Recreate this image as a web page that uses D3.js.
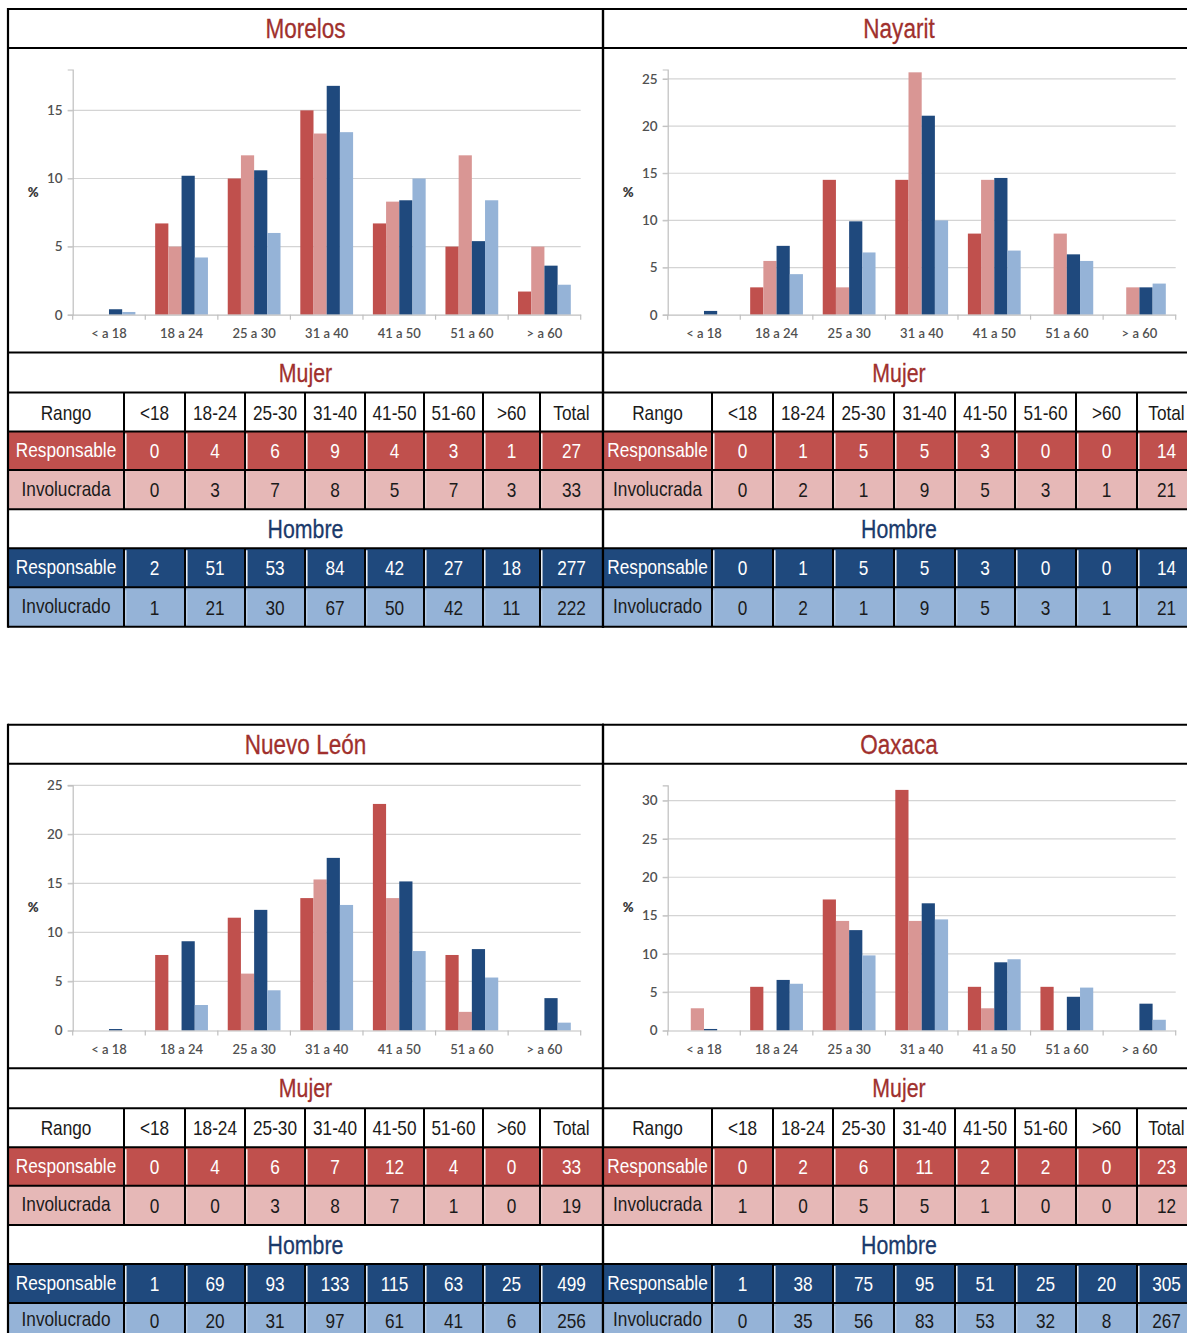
<!DOCTYPE html>
<html><head><meta charset="utf-8">
<script src="https://cdn.jsdelivr.net/npm/d3@7"></script>
<style>
html,body{margin:0;padding:0;background:#fff;}
svg{display:block;}
</style></head><body>
<svg id="chart" width="1187" height="1333"></svg>
<script>
// ---------- DATA ----------
const states = ["Morelos", "Nayarit", "Nuevo León", "Oaxaca"];
const categories = ["< a 18", "18 a 24", "25 a 30", "31 a 40", "41 a 50", "51 a 60", "> a 60"];
const rangeLabels = ["<18", "18-24", "25-30", "31-40", "41-50", "51-60", ">60"];
const seriesKeys = ["mujerResp", "mujerInv", "hombreResp", "hombreInv"];
const rowLabels = ["Responsable", "Involucrada", "Responsable", "Involucrado"];
const yTicks = [0, 5, 10, 15, 20, 25, 30];
const yAxisMax = [18, 26, 25, 32];

// chart percentages
const morelosPct = [
  [0, 6.7, 10.0, 15.0, 6.7, 5.0, 1.7],
  [0, 5.0, 11.7, 13.3, 8.3, 11.7, 5.0],
  [0.4, 10.2, 10.6, 16.8, 8.4, 5.4, 3.6],
  [0.2, 4.2, 6.0, 13.4, 10.0, 8.4, 2.2]
];
const nayaritPct = [
  [0, 2.9, 14.3, 14.3, 8.6, 0, 0],
  [0, 5.7, 2.9, 25.7, 14.3, 8.6, 2.9],
  [0.4, 7.3, 9.9, 21.1, 14.5, 6.4, 2.9],
  [0, 4.3, 6.6, 10.0, 6.8, 5.7, 3.3]
];
const nuevoLeonPct = [
  [0, 7.7, 11.5, 13.5, 23.1, 7.7, 0],
  [0, 0, 5.8, 15.4, 13.5, 1.9, 0],
  [0.15, 9.1, 12.3, 17.6, 15.2, 8.3, 3.3],
  [0, 2.6, 4.1, 12.8, 8.1, 5.4, 0.8]
];
const oaxacaPct = [
  [0, 5.7, 17.1, 31.4, 5.7, 5.7, 0],
  [2.9, 0, 14.3, 14.3, 2.9, 0, 0],
  [0.2, 6.6, 13.1, 16.6, 8.9, 4.4, 3.5],
  [0, 6.1, 9.8, 14.5, 9.3, 5.6, 1.4]
];

// table counts (last value = Total)
const morelosCounts = [
  [0, 4, 6, 9, 4, 3, 1, 27],
  [0, 3, 7, 8, 5, 7, 3, 33],
  [2, 51, 53, 84, 42, 27, 18, 277],
  [1, 21, 30, 67, 50, 42, 11, 222]
];
const nayaritCounts = [
  [0, 1, 5, 5, 3, 0, 0, 14],
  [0, 2, 1, 9, 5, 3, 1, 21],
  [0, 1, 5, 5, 3, 0, 0, 14],
  [0, 2, 1, 9, 5, 3, 1, 21]
];
const nuevoLeonCounts = [
  [0, 4, 6, 7, 12, 4, 0, 33],
  [0, 0, 3, 8, 7, 1, 0, 19],
  [1, 69, 93, 133, 115, 63, 25, 499],
  [0, 20, 31, 97, 61, 41, 6, 256]
];
const oaxacaCounts = [
  [0, 2, 6, 11, 2, 2, 0, 23],
  [1, 0, 5, 5, 1, 0, 0, 12],
  [1, 38, 75, 95, 51, 25, 20, 305],
  [0, 35, 56, 83, 53, 32, 8, 267]
];
const pctByState = [morelosPct, nayaritPct, nuevoLeonPct, oaxacaPct];
const countsByState = [morelosCounts, nayaritCounts, nuevoLeonCounts, oaxacaCounts];

// ---------- STYLE ----------
const barColors = ["#C0504D", "#D99694", "#1F497D", "#95B3D7"];
const rowFills = ["#C0504D", "#E6B8B7", "#1F497D", "#95B3D7"];
const rowText = ["#ffffff", "#1a1a1a", "#ffffff", "#1a1a1a"];
const titleRed = "#A0302D";
const navy = "#1B3A6B";

function hasFont(name) {
  const c = document.createElement("canvas").getContext("2d");
  const t = "Responsable 0123456789 Hombre";
  c.font = "40px monospace";
  const a = c.measureText(t).width;
  c.font = `40px '${name}', monospace`;
  const b = c.measureText(t).width;
  return Math.abs(a - b) > 0.5;
}
const narrowOK = hasFont("Liberation Sans Narrow");
const TF = narrowOK ? "'Liberation Sans Narrow', 'Arial Narrow', sans-serif" : "'Liberation Sans', Arial, sans-serif";
const SX = narrowOK ? 1 : 0.82;
const CF = "Lato, 'Open Sans', sans-serif";

const svg = d3.select("#chart");

function tText(g, x, y, str, size, fill, thick) {
  const t = g.append("text")
    .attr("transform", `translate(${x},${y}) scale(${SX},1)`)
    .attr("text-anchor", "middle")
    .attr("font-family", TF)
    .attr("font-size", size)
    .attr("fill", fill)
    .text(str);
  if (thick) t.attr("stroke", fill).attr("stroke-width", thick);
}

// ---------- LAYOUT ----------
const panels = [
  { px0: 8, px1: 603, cols: [8, 124, 185, 245, 305, 365, 424, 483, 540, 603], cx: 305.5, yOff: 0 },
  { px0: 603, px1: 1196, cols: [603, 712, 773, 833, 894, 955, 1015, 1076, 1137, 1196], cx: 899, yOff: 0 },
  { px0: 8, px1: 603, cols: [8, 124, 185, 245, 305, 365, 424, 483, 540, 603], cx: 305.5, yOff: 715.8 },
  { px0: 603, px1: 1196, cols: [603, 712, 773, 833, 894, 955, 1015, 1076, 1137, 1196], cx: 899, yOff: 715.8 }
];
const rowEdgesBase = [9, 48, 352.5, 392.5, 431.5, 470, 509.3, 548.3, 587.3, 626.7];

states.forEach((st, i) => {
  const P = panels[i];
  const R = rowEdgesBase.map(v => v + P.yOff);
  const g = svg.append("g");
  const pct = pctByState[i];
  const counts = countsByState[i];
  const c0 = P.cols[0], cN = P.cols[P.cols.length - 1];

  // coloured row backgrounds
  const colorRows = [4, 5, 7, 8];
  colorRows.forEach((r, k) => {
    g.append("rect").attr("x", c0).attr("y", R[r]).attr("width", cN - c0).attr("height", R[r + 1] - R[r])
      .attr("fill", rowFills[k]);
  });

  // ---- chart ----
  const axisX = P.px0 + 64.7;
  const plotW = 508;
  const top = R[1] + 21.5;
  const base = R[1] + 266.7;
  const x0 = d3.scaleBand().domain(categories).range([axisX, axisX + plotW]).paddingInner(0).paddingOuter(0);
  const x1 = d3.scaleBand().domain(seriesKeys).range([0, x0.bandwidth()]).paddingInner(0).paddingOuter(0.75);
  const y = d3.scaleLinear().domain([0, yAxisMax[i]]).range([base, top]);
  const ticks = yTicks.filter(t => t <= yAxisMax[i]);

  const cg = g.append("g");
  cg.selectAll("line.grid").data(ticks.filter(t => t > 0)).enter().append("line")
    .attr("x1", axisX - 5).attr("x2", axisX + plotW)
    .attr("y1", d => y(d)).attr("y2", d => y(d))
    .attr("stroke", "#D4D4D4").attr("stroke-width", 1.2);
  const yAxis = d3.axisLeft(y).tickValues(ticks).tickSize(5).tickPadding(5);
  const ya = cg.append("g").attr("transform", `translate(${axisX},0)`).call(yAxis);
  ya.select(".domain").attr("stroke", "#BFBFBF").attr("stroke-width", 1.2);
  ya.selectAll(".tick line").attr("stroke", "#BFBFBF");
  ya.selectAll(".tick text").attr("font-family", CF).attr("font-size", 13.5).attr("fill", "#505050").attr("font-weight", 600);
  cg.append("text").attr("x", axisX - 39.5).attr("y", (top + base) / 2).attr("dy", "0.35em")
    .attr("text-anchor", "middle").attr("font-family", CF).attr("font-size", 13).attr("font-weight", 800)
    .attr("fill", "#3a3a3a").text("%");

  seriesKeys.forEach((sk, s) => {
    cg.selectAll(null).data(pct[s]).enter().append("rect")
      .attr("x", (d, j) => x0(categories[j]) + x1(sk))
      .attr("width", x1.bandwidth())
      .attr("y", d => y(d))
      .attr("height", d => base - y(d))
      .attr("fill", barColors[s]);
  });

  const xa = cg.append("g").attr("transform", `translate(0,${base})`)
    .call(d3.axisBottom(x0).tickSize(0).tickPadding(14));
  xa.select(".domain").attr("stroke", "#BFBFBF").attr("stroke-width", 1.2);
  xa.selectAll(".tick text").attr("font-family", CF).attr("font-size", 13).attr("fill", "#505050").attr("font-weight", 600);
  const bounds = categories.map(c => x0(c)).concat([axisX + plotW]);
  cg.selectAll(null).data(bounds).enter().append("line")
    .attr("x1", d => d).attr("x2", d => d).attr("y1", base).attr("y2", base + 5)
    .attr("stroke", "#BFBFBF").attr("stroke-width", 1.2);

  // ---- table lines ----
  const line = (xa_, ya_, xb, yb, col, w) => g.append("line").attr("x1", xa_).attr("y1", ya_).attr("x2", xb).attr("y2", yb)
    .attr("stroke", col).attr("stroke-width", w);
  [4, 7].forEach(r => {
    P.cols.slice(1, -1).forEach(cx => line(cx + 1.8, R[r] + 2, cx + 1.8, R[r + 1] - 1, "#ffffff", 1.4));
  });
  [5, 8].forEach(r => {
    P.cols.slice(1, -1).forEach(cx => line(cx + 1.8, R[r] + 3, cx + 1.8, R[r + 1] - 2, "rgba(255,255,255,0.5)", 1));
  });
  R.forEach(ry => line(P.px0, ry, P.px1, ry, "#000", 2));
  line(P.px0, R[0] - 1, P.px0, R[R.length - 1] + 1, "#000", 2.2);
  line(P.px1, R[0] - 1, P.px1, R[R.length - 1] + 1, "#000", 2.2);
  P.cols.slice(1, -1).forEach(cx => {
    line(cx, R[3], cx, R[6], "#000", 2);
    line(cx, R[7], cx, R[9], "#000", 2);
  });

  // ---- texts ----
  const mid = r => (R[r] + R[r + 1]) / 2;
  tText(g, P.cx, mid(0) + 9.5, st, 27.5, titleRed, 0.3);
  tText(g, P.cx, mid(2) + 9, "Mujer", 26, titleRed, 0.3);
  tText(g, P.cx, mid(6) + 9, "Hombre", 26, navy, 0.3);
  const colC = k => (P.cols[k] + P.cols[k + 1]) / 2;
  const fs = 21;
  tText(g, colC(0), mid(3) + 7.5, "Rango", fs, "#1a1a1a");
  rangeLabels.forEach((lab, k) => tText(g, colC(k + 1), mid(3) + 7.5, lab, fs, "#1a1a1a"));
  tText(g, colC(8), mid(3) + 7.5, "Total", fs, "#1a1a1a");
  const dataRows = [4, 5, 7, 8];
  dataRows.forEach((r, s) => {
    // keep the last (partly visible) row inside the page
    const lift = (r === 8 && P.yOff > 0) ? 2.5 : 0;
    tText(g, colC(0), mid(r) + 6 - lift, rowLabels[s], fs, rowText[s]);
    counts[s].forEach((v, k) => tText(g, colC(k + 1), mid(r) + 7.5 - lift, String(v), fs, rowText[s]));
  });
});
</script>
</body></html>
